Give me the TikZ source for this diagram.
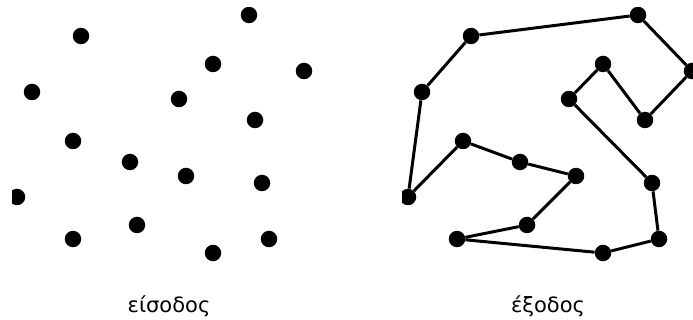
\documentclass[tikz,border=0pt]{standalone}
\usepackage{fontspec}
\setmainfont{DejaVu Sans}
\usepackage{tikz}
\usetikzlibrary{positioning}

\begin{document}
\begin{tikzpicture}[
  x=1pt, y=-1pt,
  dot/.style={circle, fill=black, inner sep=0pt, minimum size=16.5pt},
  edge/.style={line width=3pt, black},
  caption/.style={anchor=base, font=\fontsize{21}{24}\selectfont}
]
\useasboundingbox (0,0) rectangle (693,320);

\begin{scope}
\clip (12,8) rectangle (330,275);
\node[dot] (in1) at (249,15) {};
\node[dot] (in2) at (81,36) {};
\node[dot] (in3) at (213,64) {};
\node[dot] (in4) at (304,71) {};
\node[dot] (in5) at (32,92) {};
\node[dot] (in6) at (179,99) {};
\node[dot] (in7) at (255,120) {};
\node[dot] (in8) at (73,141) {};
\node[dot] (in9) at (130,162) {};
\node[dot] (in10) at (186,176) {};
\node[dot] (in11) at (262,183) {};
\node[dot] (in12) at (17,197) {};
\node[dot] (in13) at (73,239) {};
\node[dot] (in14) at (137,225) {};
\node[dot] (in15) at (213,253) {};
\node[dot] (in16) at (269,239) {};
\end{scope}

\begin{scope}
\clip (402,8) rectangle (693,275);
\node[dot] (out1) at (638,15) {};
\node[dot] (out2) at (471,36) {};
\node[dot] (out3) at (603,64) {};
\node[dot] (out4) at (692,71) {};
\node[dot] (out5) at (422,92) {};
\node[dot] (out6) at (569,99) {};
\node[dot] (out7) at (645,120) {};
\node[dot] (out8) at (463,141) {};
\node[dot] (out9) at (520,162) {};
\node[dot] (out10) at (576,176) {};
\node[dot] (out11) at (652,183) {};
\node[dot] (out12) at (408,197) {};
\node[dot] (out13) at (457,239) {};
\node[dot] (out14) at (527,225) {};
\node[dot] (out15) at (603,253) {};
\node[dot] (out16) at (659,239) {};

\draw[edge] (out12) -- (out5);
\draw[edge] (out5) -- (out2);
\draw[edge] (out2) -- (out1);
\draw[edge] (out1) -- (out4);
\draw[edge] (out4) -- (out7);
\draw[edge] (out7) -- (out3);
\draw[edge] (out3) -- (out6);
\draw[edge] (out6) -- (out11);
\draw[edge] (out11) -- (out16);
\draw[edge] (out16) -- (out15);
\draw[edge] (out15) -- (out13);
\draw[edge] (out13) -- (out14);
\draw[edge] (out14) -- (out10);
\draw[edge] (out10) -- (out9);
\draw[edge] (out9) -- (out8);
\draw[edge] (out8) -- (out12);
\end{scope}

\node[caption] (input) at (169,312) {είσοδος};
\node[caption] (output) at (548,312) {έξοδος};

\end{tikzpicture}
\end{document}
